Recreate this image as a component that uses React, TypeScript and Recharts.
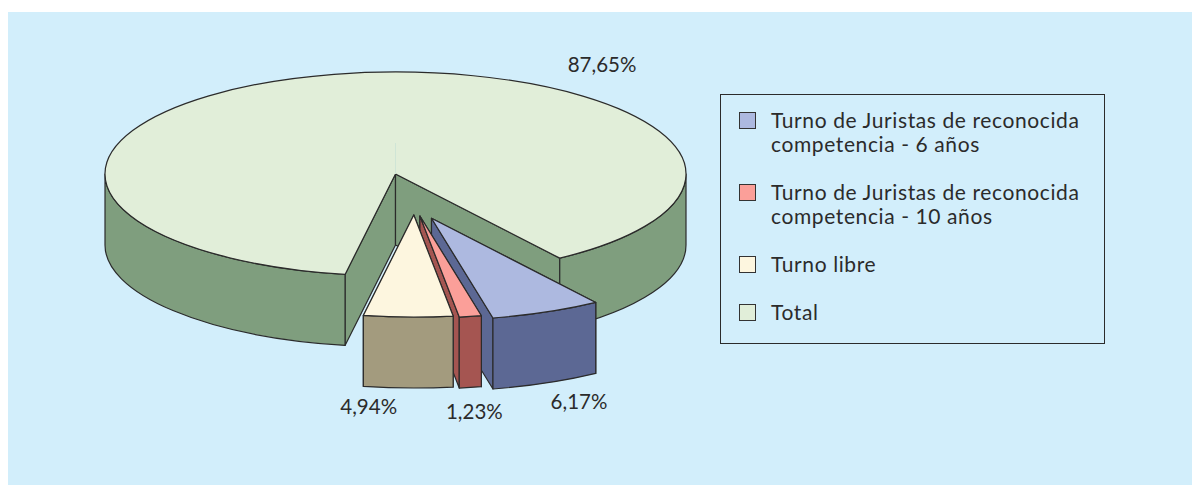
import React from "react";
import { PieChart, Pie, Legend } from "recharts";

// Legend order, Total goes last
const categories = [
  "Turno de Juristas de reconocida competencia - 6 años",
  "Turno de Juristas de reconocida competencia - 10 años",
  "Turno libre",
  "Total",
];
const shares = [6.17, 1.23, 4.94, 87.65];
const topColors = ["#adb9e0", "#fb9f99", "#fdf6df", "#e1eed9"];
const wallColors = ["#5c6894", "#a55551", "#a39b7e", "#7f9e7e"];

// how far each wedge is pulled out of the pie
const explode = [
  { dx: 36, dy: 44.3 },
  { dx: 24.4, dy: 42 },
  { dx: 18.3, dy: 41 },
  { dx: 0, dy: 0 },
];
// label shift from the wedge's outer rim
const labelNudge = [
  { dx: 32.5, dy: 97 },
  { dx: 4, dy: 103 },
  { dx: -39.5, dy: 97 },
  { dx: 268, dy: -2 },
];

// Total is painted first, the small wedges on top of it
const tableOrder = [3, 0, 1, 2];
const table = tableOrder.map((i) => ({
  name: categories[i],
  value: shares[i],
  fill: topColors[i],
}));

const W = 1192;
const H = 485;
const CX = 395.5;
const CY = 174;
const RX = 290.5;
const TILT = 102 / 290.5;
const RY = RX * TILT;
const DEPTH = 71;
const INK = "#2b2b2b";
const FONT = "Lato, 'Open Sans', sans-serif";

const rad = (a: number) => (a * Math.PI) / 180;

function Wedge3D(props: any) {
  const { cx, cy, startAngle, endAngle, fill, name } = props;
  const i = categories.indexOf(name);
  const wall = wallColors[i];
  const ax = cx + explode[i].dx;
  const ay = cy + explode[i].dy;
  const px = (t: number) => ax + RX * Math.cos(rad(t));
  const py = (t: number) => ay - RY * Math.sin(rad(t));
  const radial = (t: number) =>
    `M${ax},${ay} L${px(t)},${py(t)} L${px(t)},${py(t) + DEPTH} L${ax},${ay + DEPTH} Z`;

  // outer wall only shows on the lower half of the ellipse
  const rims: string[] = [];
  [
    [-180, 0],
    [180, 360],
  ].forEach(([lo, hi]) => {
    const a = Math.min(startAngle, hi);
    const b = Math.max(endAngle, lo);
    if (a <= b) return;
    rims.push(
      `M${px(a)},${py(a)} A${RX},${RY} 0 0 1 ${px(b)},${py(b)} L${px(b)},${py(b) + DEPTH} A${RX},${RY} 0 0 0 ${px(a)},${py(a) + DEPTH} Z`
    );
  });

  const large = startAngle - endAngle > 180 ? 1 : 0;
  const top = `M${ax},${ay} L${px(startAngle)},${py(startAngle)} A${RX},${RY} 0 ${large} 1 ${px(endAngle)},${py(endAngle)} Z`;
  const line = { stroke: INK, strokeWidth: 1.2, strokeLinejoin: "round" as const };

  return (
    <g>
      <path d={radial(startAngle)} fill={wall} {...line} />
      <path d={radial(endAngle)} fill={wall} {...line} />
      {rims.map((d) => (
        <path key={d} d={d} fill={wall} {...line} />
      ))}
      <path d={top} fill={fill} {...line} />
      {name === "Total" && <line x1={ax} y1={ay} x2={ax} y2={ay - 31} stroke="#cfe5d6" />}
    </g>
  );
}

function renderLabel(props: any) {
  const { cx, cy, midAngle, name, value } = props;
  const i = categories.indexOf(name);
  const x = cx + explode[i].dx + RX * Math.cos(rad(midAngle)) + labelNudge[i].dx;
  const y = cy + explode[i].dy - RY * Math.sin(rad(midAngle)) + labelNudge[i].dy;
  return (
    <text x={x} y={y} textAnchor="middle" fontFamily={FONT} fontSize={20.5} fill={INK}>
      {value.toFixed(2).replace(".", ",")}%
    </text>
  );
}

function LegendBox() {
  return (
    <div
      style={{
        boxSizing: "border-box",
        width: 385,
        height: 250,
        border: `1.3px solid ${INK}`,
        padding: "13px 0 0 18px",
        fontFamily: FONT,
        fontSize: 21,
        letterSpacing: 0.6,
        lineHeight: "24px",
        color: INK,
        textAlign: "left",
      }}
    >
      {categories.map((c, i) => (
        <div key={c} style={{ display: "flex", marginBottom: 24 }}>
          <span
            style={{
              boxSizing: "border-box",
              flex: "none",
              width: 17,
              height: 17,
              marginTop: 3.5,
              marginRight: 15,
              background: topColors[i],
              border: "1.4px solid #333",
            }}
          />
          <span style={{ width: 325 }}>{c}</span>
        </div>
      ))}
    </div>
  );
}

export default function App() {
  return (
    <div style={{ position: "absolute", left: 0, top: 0, width: W, height: H, background: "#fff" }}>
      <div style={{ position: "absolute", left: 8, top: 12, right: 0, bottom: 0, background: "#d2eefb" }} />
      <div style={{ position: "absolute", left: 0, top: 0 }}>
        <PieChart width={W} height={H} margin={{ top: 0, right: 0, bottom: 0, left: 0 }}>
          <Pie
            data={table}
            dataKey="value"
            nameKey="name"
            cx={CX}
            cy={CY}
            innerRadius={0}
            outerRadius={RX}
            startAngle={260}
            endAngle={-100}
            stroke={INK}
            shape={Wedge3D}
            label={renderLabel}
            labelLine={false}
            isAnimationActive={false}
          />
          <Legend
            content={<LegendBox />}
            wrapperStyle={{ left: 720, top: 94, width: 385, height: 250, bottom: "auto" }}
          />
        </PieChart>
      </div>
    </div>
  );
}
